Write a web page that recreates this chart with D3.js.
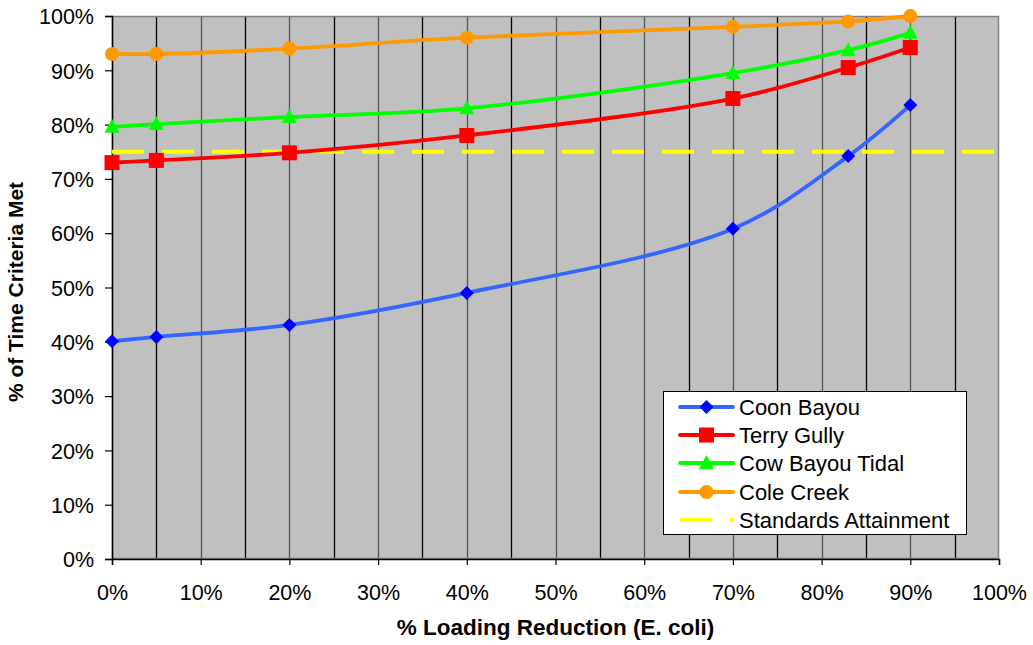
<!DOCTYPE html>
<html>
<head>
<meta charset="utf-8">
<script src="https://cdn.jsdelivr.net/npm/d3@7/dist/d3.min.js"></script>
<style>
  html, body { margin: 0; padding: 0; background: #fff; }
  svg { display: block; font-family: "Liberation Sans", Arial, sans-serif; }
</style>
</head>
<body>
<svg id="chart" width="1033" height="645"></svg>
<script>
// Loading reduction scenarios (fraction of load removed)
const reductions = [0, 0.05, 0.20, 0.40, 0.70, 0.83, 0.90];

// % of time the criteria are met at each reduction
const coonBayou    = [0.401, 0.409, 0.431, 0.490, 0.608, 0.742, 0.836];
const terryGully   = [0.730, 0.734, 0.748, 0.780, 0.848, 0.905, 0.942];
const cowBayou     = [0.796, 0.801, 0.814, 0.830, 0.895, 0.937, 0.969];
const coleCreek    = [0.930, 0.930, 0.940, 0.960, 0.980, 0.990, 1.000];
const standard     = 0.75;

const seriesNames  = ["Coon Bayou", "Terry Gully", "Cow Bayou Tidal", "Cole Creek", "Standards Attainment"];
const xTicks = [0, 0.1, 0.2, 0.3, 0.4, 0.5, 0.6, 0.7, 0.8, 0.9, 1.0];
const yTicks = [0, 0.1, 0.2, 0.3, 0.4, 0.5, 0.6, 0.7, 0.8, 0.9, 1.0];
const xGrid  = d3.range(0, 21).map(i => i * 0.05);

const series = [
  { name: seriesNames[0], values: coonBayou,  line: "#3366FF", fill: "#0000FF", marker: "diamond" },
  { name: seriesNames[1], values: terryGully, line: "#FF0000", fill: "#FF0000", marker: "square" },
  { name: seriesNames[2], values: cowBayou,   line: "#00FF00", fill: "#00FF00", marker: "triangle" },
  { name: seriesNames[3], values: coleCreek,  line: "#FF9900", fill: "#FF9900", marker: "circle" }
];

const svg = d3.select("#chart");
const plot = { left: 112, top: 16, right: 999, bottom: 559 };

const x = d3.scaleLinear().domain([0, 1]).range([plot.left, plot.right]);
const y = d3.scaleLinear().domain([0, 1]).range([plot.bottom, plot.top]);
const pct = d3.format(".0%");

// plot background
svg.append("rect")
  .attr("x", plot.left).attr("y", plot.top)
  .attr("width", plot.right - plot.left).attr("height", plot.bottom - plot.top)
  .attr("fill", "#C0C0C0");

// vertical gridlines every 5%
svg.append("g").selectAll("line").data(xGrid.slice(1, -1)).join("line")
  .attr("x1", d => Math.round(x(d)) + 0.5).attr("x2", d => Math.round(x(d)) + 0.5)
  .attr("y1", plot.top).attr("y2", plot.bottom)
  .attr("stroke", (d, i) => i % 2 ? "#555" : "#000").attr("stroke-width", 1.3);

// plot border
svg.append("rect")
  .attr("x", plot.left + 0.5).attr("y", plot.top + 0.5)
  .attr("width", plot.right - plot.left - 1).attr("height", plot.bottom - plot.top - 1)
  .attr("fill", "none").attr("stroke", "#808080").attr("stroke-width", 1.5);

// axes
const yAxis = d3.axisLeft(y).tickValues(yTicks).tickFormat(pct).tickSize(7).tickPadding(11);
const xAxis = d3.axisBottom(x).tickValues(xTicks).tickFormat(pct).tickSize(6).tickPadding(20);

const gy = svg.append("g").attr("transform", `translate(${plot.left},0)`).call(yAxis);
const gx = svg.append("g").attr("transform", `translate(0,${plot.bottom})`).call(xAxis);
[gx, gy].forEach(g => {
  g.select(".domain").attr("stroke", "#000").attr("stroke-width", 1.5);
  g.selectAll(".tick line").attr("stroke", "#000").attr("stroke-width", 1.2);
  g.selectAll(".tick text").attr("fill", "#000").style("font-size", "21.5px")
   .style("font-family", '"Liberation Sans", Arial, sans-serif');
});
gy.selectAll(".tick text").attr("dy", "0.36em");

// axis titles
svg.append("text")
  .attr("x", (plot.left + plot.right) / 2).attr("y", 635)
  .attr("text-anchor", "middle")
  .style("font-size", "22.5px").style("font-weight", "bold")
  .text("% Loading Reduction (E. coli)");

svg.append("text")
  .attr("transform", "translate(23,292) rotate(-90)")
  .attr("text-anchor", "middle")
  .style("font-size", "21px").style("font-weight", "bold")
  .text("% of Time Criteria Met");

// target line
svg.append("line")
  .attr("x1", plot.left).attr("x2", plot.right)
  .attr("y1", y(standard)).attr("y2", y(standard))
  .attr("stroke", "#FFFF00").attr("stroke-width", 4)
  .attr("stroke-dasharray", "32,18");

// marker shapes
function drawMarker(g, type, color, cx, cy) {
  if (type === "diamond") {
    g.append("path").attr("d", `M${cx},${cy - 7}L${cx + 7},${cy}L${cx},${cy + 7}L${cx - 7},${cy}Z`)
      .attr("fill", color);
  } else if (type === "square") {
    g.append("rect").attr("x", cx - 7.5).attr("y", cy - 7.5).attr("width", 15).attr("height", 15)
      .attr("fill", color);
  } else if (type === "triangle") {
    g.append("path").attr("d", `M${cx},${cy - 8}L${cx + 7.5},${cy + 6}L${cx - 7.5},${cy + 6}Z`)
      .attr("fill", color);
  } else {
    g.append("circle").attr("cx", cx).attr("cy", cy).attr("r", 7).attr("fill", color);
  }
}

const line = d3.line().x(d => x(d[0])).y(d => y(d[1])).curve(d3.curveCatmullRom.alpha(0.5));

series.forEach(s => {
  const pts = reductions.map((r, i) => [r, s.values[i]]);
  const g = svg.append("g");
  g.append("path").attr("d", line(pts))
    .attr("fill", "none").attr("stroke", s.line).attr("stroke-width", 3.8);
  pts.forEach(p => drawMarker(g, s.marker, s.fill, x(p[0]), y(p[1])));
});

// legend
const lg = svg.append("g");
lg.append("rect").attr("x", 663.5).attr("y", 391.5).attr("width", 303).attr("height", 143)
  .attr("fill", "#fff").attr("stroke", "#000").attr("stroke-width", 1);
const legendRows = [407, 435, 463, 492, 520];
series.forEach((s, i) => {
  const ly = legendRows[i];
  lg.append("line").attr("x1", 680).attr("x2", 733).attr("y1", ly).attr("y2", ly)
    .attr("stroke", s.line).attr("stroke-width", 3.8).attr("stroke-linecap", "round");
  drawMarker(lg, s.marker, s.fill, 706.5, ly);
  lg.append("text").attr("x", 739).attr("y", ly).attr("dy", "0.36em")
    .style("font-size", "22px").text(s.name);
});
const sy = legendRows[4];
lg.append("line").attr("x1", 680).attr("x2", 712).attr("y1", sy).attr("y2", sy)
  .attr("stroke", "#FFFF00").attr("stroke-width", 4);
lg.append("line").attr("x1", 730).attr("x2", 734).attr("y1", sy).attr("y2", sy)
  .attr("stroke", "#FFFF00").attr("stroke-width", 4);
lg.append("text").attr("x", 739).attr("y", sy).attr("dy", "0.36em")
  .style("font-size", "22px").text(seriesNames[4]);
</script>
</body>
</html>
